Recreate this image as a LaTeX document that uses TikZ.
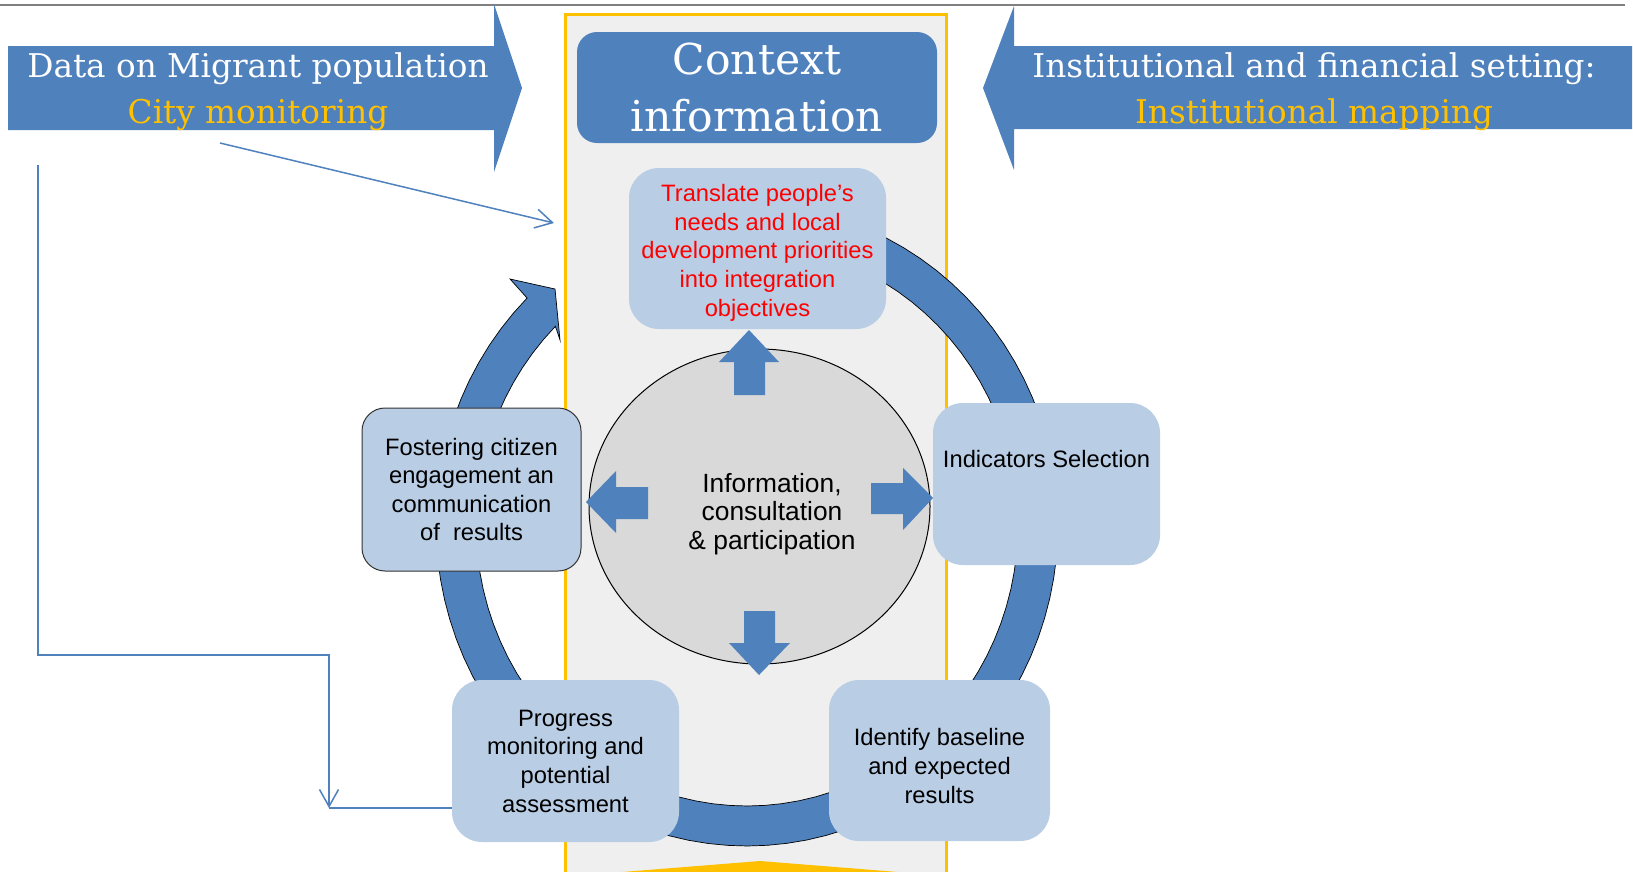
\documentclass[tikz,border=0pt]{standalone}
\usepackage{fontspec}
\setsansfont{Liberation Sans}
\newfontfamily\headfont{DejaVu Serif}
\usetikzlibrary{shapes.geometric,arrows.meta}
\definecolor{ppblue}{HTML}{4F81BD}
\definecolor{pplight}{HTML}{B9CDE5}
\definecolor{ppyellow}{HTML}{FFC000}
\definecolor{ppframe}{HTML}{EFEFEF}
\definecolor{pphub}{HTML}{D9D9D9}
\definecolor{ppline}{HTML}{808080}
\begin{document}
\begin{tikzpicture}[x=0.2mm,y=-0.2mm,
    headtext/.style={text=white,align=center,font=\headfont\fontsize{18.6}{26.2}\selectfont},
    stage/.style={fill=pplight,rounded corners=6mm,inner sep=0pt,align=center,
      font=\sffamily\fontsize{13.5}{16.3}\selectfont},
    ring/.style={fill=ppblue,draw=black,line width=0.4pt},
    feed/.style={ppblue,line width=0.3mm},
    link/.style={feed,-{Straight Barb[length=3.4mm,width=3.8mm]}}]
  \useasboundingbox (0,0) rectangle (1633,871);
  \clip (0,0) rectangle (1633,871);
  \draw[ppline,line width=0.4mm] (0,5) -- (1625,5);
  \draw[ppyellow,line width=0.6mm,fill=ppframe] (565,14) rectangle (946,880);
  \fill[ppyellow] (622,872) -- (760,861) -- (898,872) -- cycle;
  \draw[ring] plot[domain=-100:225,samples=90,variable=\t] ({747+311*cos(\t)},{525+321*sin(\t)})
    -- (510,279) -- (555,289) -- (560,340)
    -- plot[domain=225:-100,samples=90,variable=\t] ({747+271*cos(\t)},{525+281*sin(\t)}) -- cycle;
  \node[stage,text=red,minimum width=51.4mm,minimum height=32.2mm,text height=27mm,text depth=0mm]
    (trans) at (757.5,248.5)
    {Translate people’s\\needs and local\\development priorities\\into integration\\objectives};
  \node[stage,draw=black!80,line width=0.2mm,rounded corners=4.6mm,minimum width=43.8mm,minimum height=32.6mm]
    (foster) at (471.5,489.5) {Fostering citizen\\engagement an\\communication\\of \ results};
  \node[stage,minimum width=45.4mm,minimum height=32.4mm,text height=3.4mm,text depth=10.2mm]
    (indic) at (1046.5,484) {Indicators Selection};
  \node[stage,minimum width=44.2mm,minimum height=32.2mm,text height=17mm,text depth=0mm]
    (ident) at (939.5,760.5) {Identify baseline\\and expected\\results};
  \node[stage,minimum width=45.4mm,minimum height=32.4mm] (progr) at (565.5,761)
    {Progress\\monitoring and\\potential\\assessment};
  \node[ellipse,fill=pphub,draw=black,line width=0.2mm,minimum width=68.2mm,minimum height=63mm]
    (hub) at (759.5,506.5) {};
  \node[align=center,inner sep=0pt,font=\sffamily\fontsize{15}{16.3}\selectfont] (hubtext) at (772,514)
    {Information,\\consultation\\\& participation};
  \fill[ppblue] (734,395) -- (734,362) -- (719,362) -- (749,330) -- (779,362) -- (765,362) -- (765,395) -- cycle;
  \fill[ppblue] (648,487) -- (616,487) -- (616,471) -- (586,502) -- (616,533) -- (616,519) -- (648,519) -- cycle;
  \fill[ppblue] (871,483) -- (903,483) -- (903,468) -- (933,498) -- (903,530) -- (903,514) -- (871,514) -- cycle;
  \fill[ppblue] (744,611) -- (775,611) -- (775,643) -- (790,643) -- (759,675) -- (729,643) -- (744,643) -- cycle;
  \node[fill=ppblue,rounded corners=4mm,minimum width=72mm,minimum height=22.2mm,inner sep=0pt,
    text=white,align=center,font=\headfont\fontsize{24.2}{31.9}\selectfont] (ctx) at (757,87.5) {Context\\information};
  \fill[ppblue] (8,46) -- (494,46) -- (494,4) -- (522,88) -- (494,172) -- (494,130) -- (8,130) -- cycle;
  \fill[ppblue] (1632,46) -- (1014,46) -- (1014,6) -- (983,88) -- (1014,170) -- (1014,129) -- (1632,129) -- cycle;
  \node[headtext] (migr) at (258,92) {Data on Migrant population\\{\color{ppyellow}City monitoring}};
  \node[headtext] (inst) at (1314,92) {Institutional and financial setting:\\{\color{ppyellow}Institutional mapping}};
  \coordinate (cmstart) at (220,143);
  \coordinate (cmend) at (554,223);
  \draw[link] (cmstart) -- (cmend);
  \coordinate (fbstart) at (38,165);
  \coordinate (fbend) at (329,808);
  \draw[link] (fbstart) -- (38,655) -| (fbend);
  \draw[feed] (fbend) -- (progr.west |- fbend);
\end{tikzpicture}
\end{document}
